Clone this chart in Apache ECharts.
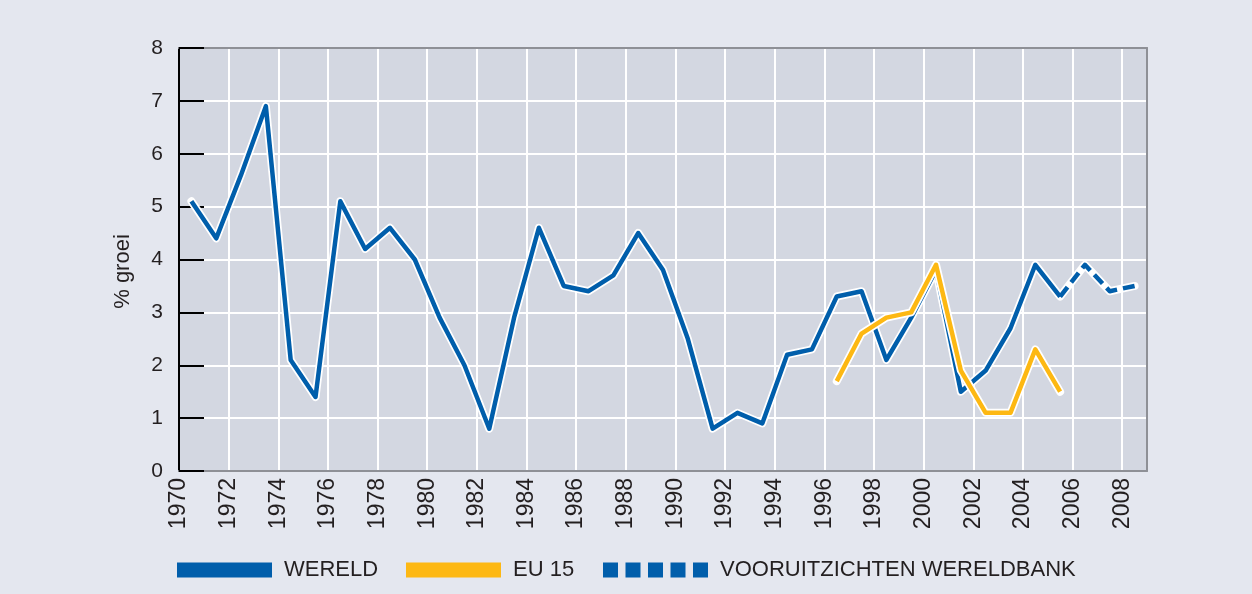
<!DOCTYPE html>
<html><head><meta charset="utf-8">
<script src="https://cdn.jsdelivr.net/npm/echarts@6/dist/echarts.min.js"></script>
<style>html,body{margin:0;padding:0;background:#e4e7ef}#c{width:1252px;height:594px}</style>
</head><body><div id="c"></div>
<script>
// Data (annual % growth), plotted at mid-year
const wereldYears = [1970,1971,1972,1973,1974,1975,1976,1977,1978,1979,1980,1981,1982,1983,1984,1985,1986,1987,1988,1989,1990,1991,1992,1993,1994,1995,1996,1997,1998,1999,2000,2001,2002,2003,2004,2005];
const wereld = [5.1,4.4,5.6,6.9,2.1,1.4,5.1,4.2,4.6,4.0,2.9,2.0,0.8,2.9,4.6,3.5,3.4,3.7,4.5,3.8,2.5,0.8,1.1,0.9,2.2,2.3,3.3,3.4,2.1,2.9,3.8,1.5,1.9,2.7,3.9,3.3];
const eu15Years = [1996,1997,1998,1999,2000,2001,2002,2003,2004,2005];
const eu15 = [1.7,2.6,2.9,3.0,3.9,1.9,1.1,1.1,2.3,1.5];
const forecastYears = [2005,2006,2007,2008];
const forecast = [3.3,3.9,3.4,3.5];
const seriesNames = ['WERELD','EU 15','VOORUITZICHTEN WERELDBANK'];

const BLUE = '#005eab', YELLOW = '#fdb813', GRAY = '#8e9096', INK = '#231f20';
const pts = (ys, vs) => ys.map((y, i) => [y + 0.5, vs[i]]);
const haloPts = pts(wereldYears.concat(forecastYears.slice(1)), wereld.concat(forecast.slice(1)));

const chart = echarts.init(document.getElementById('c'));
const font = 'Liberation Sans, Arial, sans-serif';
const borderAxis = (pos, color, extra) => Object.assign({
  type: 'value', position: pos, z: 1,
  axisLine: { show: true, onZero: false, lineStyle: { color: color, width: 2 } },
  axisTick: { show: false }, axisLabel: { show: false }, splitLine: { show: false }
}, extra);

chart.setOption({
  backgroundColor: '#e4e7ef',
  animation: false,
  textStyle: { fontFamily: font },
  grid: { left: 179, right: 105, top: 48, bottom: 123, show: true, backgroundColor: '#d3d7e1', borderWidth: 0 },
  legend: [
    { left: 177, data: [{ name: seriesNames[0], icon: 'rect', itemStyle: { color: BLUE, borderWidth: 0 } }] },
    { left: 406, data: [{ name: seriesNames[1], icon: 'rect', itemStyle: { color: YELLOW, borderWidth: 0 } }] },
    { left: 603, itemWidth: 105, data: [{ name: seriesNames[2], icon: 'path://M0,0h15v15h-15z M22.5,0h15v15h-15z M45,0h15v15h-15z M67.5,0h15v15h-15z M90,0h15v15h-15z', itemStyle: { color: BLUE, borderWidth: 0 } }] }
  ].map(l => Object.assign({ top: 559, padding: 0, orient: 'horizontal', itemWidth: 95, itemHeight: 15, selectedMode: false,
      textStyle: { fontSize: 22, color: INK, fontFamily: font, padding: [0, 0, 0, 7] } }, l)),
  xAxis: [
    { type: 'value', min: 1970, max: 2009, interval: 2, position: 'bottom',
      axisLine: { show: false }, axisTick: { show: false },
      splitLine: { show: true, lineStyle: { color: '#ffffff', width: 2 } },
      axisLabel: { rotate: 90, fontSize: 23, color: INK, margin: 7, showMaxLabel: false,
        formatter: v => (v % 2 === 0 ? String(v) : '') } },
    borderAxis('top', GRAY, { min: 1970, max: 2009 }),
    borderAxis('bottom', GRAY, { min: 1970, max: 2009 })
  ],
  yAxis: [
    { type: 'value', min: 0, max: 8, interval: 1, position: 'left',
      axisLine: { show: false }, axisTick: { show: false },
      splitLine: { show: true, lineStyle: { color: '#ffffff', width: 2 } },
      axisLabel: { fontSize: 21, color: INK, margin: 16 },
      name: '% groei', nameLocation: 'middle', nameRotate: 90, nameGap: 45,
      nameTextStyle: { fontSize: 22, color: INK, padding: [0, 24, 0, 0] } },
    borderAxis('right', GRAY, { min: 0, max: 8 }),
    borderAxis('left', '#000000', { min: 0, max: 8, interval: 1,
      axisTick: { show: true, inside: true, length: 25, lineStyle: { color: '#000000', width: 2 } } })
  ],
  series: [
    { name: 'halo-w', type: 'line', data: haloPts, symbol: 'none', z: 2,
      lineStyle: { color: '#ffffff', width: 8, join: 'round', cap: 'round' } },
    { name: seriesNames[0], type: 'line', data: pts(wereldYears, wereld), symbol: 'none', z: 3,
      lineStyle: { color: BLUE, width: 4.5, join: 'round' }, itemStyle: { color: BLUE } },
    { name: seriesNames[2], type: 'line', data: pts(forecastYears, forecast), symbol: 'none', z: 3,
      lineStyle: { color: BLUE, width: 4.5, type: [12, 6], join: 'round' }, itemStyle: { color: BLUE } },
    { name: 'halo-e', type: 'line', data: pts(eu15Years, eu15), symbol: 'none', z: 4,
      lineStyle: { color: '#ffffff', width: 8, join: 'round', cap: 'round' } },
    { name: seriesNames[1], type: 'line', data: pts(eu15Years, eu15), symbol: 'none', z: 5,
      lineStyle: { color: YELLOW, width: 4.5, join: 'round' }, itemStyle: { color: YELLOW } }
  ]
});
</script></body></html>
